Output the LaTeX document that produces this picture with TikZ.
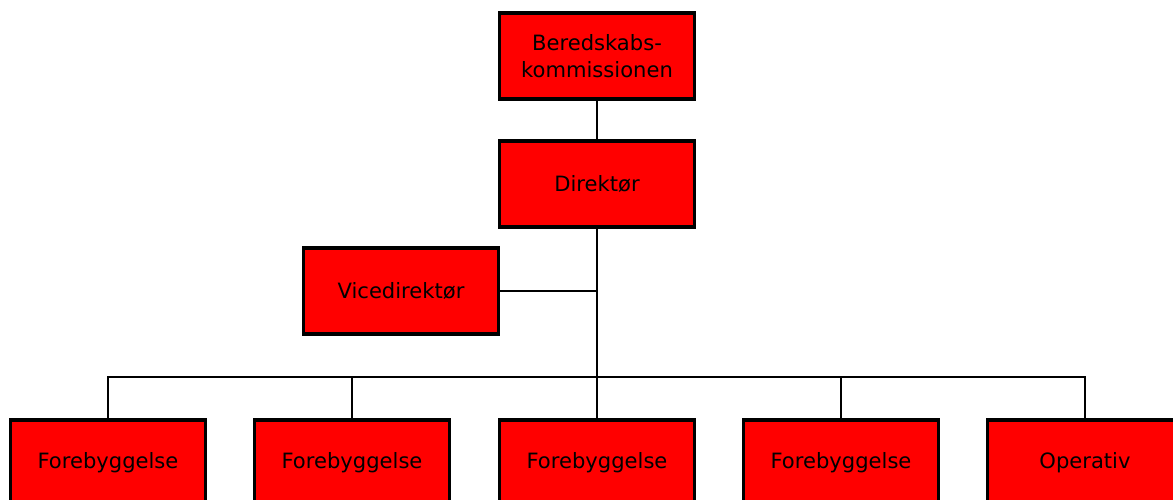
\documentclass[tikz,border=0pt]{standalone}
\usepackage{fontspec}
\setmainfont{DejaVu Sans}
\tikzset{
    orgbox/.style = {draw = black, line width = 1.9pt, fill = red, minimum width = 3.9cm, minimum height = 1.72cm, align = center, font = \fontsize{12}{15.2}\selectfont, inner sep = 0pt},
    link/.style = {black, line width = 1.3pt}
}
\begin{document}
\begin{tikzpicture}[x = 0.02cm, y = -0.02cm]

        \clip (0, 0) rectangle (1173, 500);

        \node[orgbox] (kom) at (597, 56) {Beredskabs-\\kommissionen};
        \node[orgbox] (dir) at (597, 184) {Direktør};
        \node[orgbox] (vice) at (401, 291) {Vicedirektør};

        \node[orgbox] (fb1) at (108, 463) {Forebyggelse};
        \node[orgbox] (fb2) at (352, 463) {Forebyggelse};
        \node[orgbox] (fb3) at (597, 463) {Forebyggelse};
        \node[orgbox] (fb4) at (841, 463) {Forebyggelse};
        \node[orgbox] (op) at (1085, 463) {Operativ};

        \coordinate (bus) at (597, 377);

        \draw[link] (kom) -- (dir);
        \draw[link] (dir) -- (bus);
        \draw[link] (vice) -- (vice -| dir);

        \draw[link] (fb1.north) |- (bus) -| (op.north);
        \draw[link] (fb2.north) -- (fb2.north |- bus);
        \draw[link] (fb3.north) -- (bus);
        \draw[link] (fb4.north) -- (fb4.north |- bus);

    \end{tikzpicture}
\end{document}
